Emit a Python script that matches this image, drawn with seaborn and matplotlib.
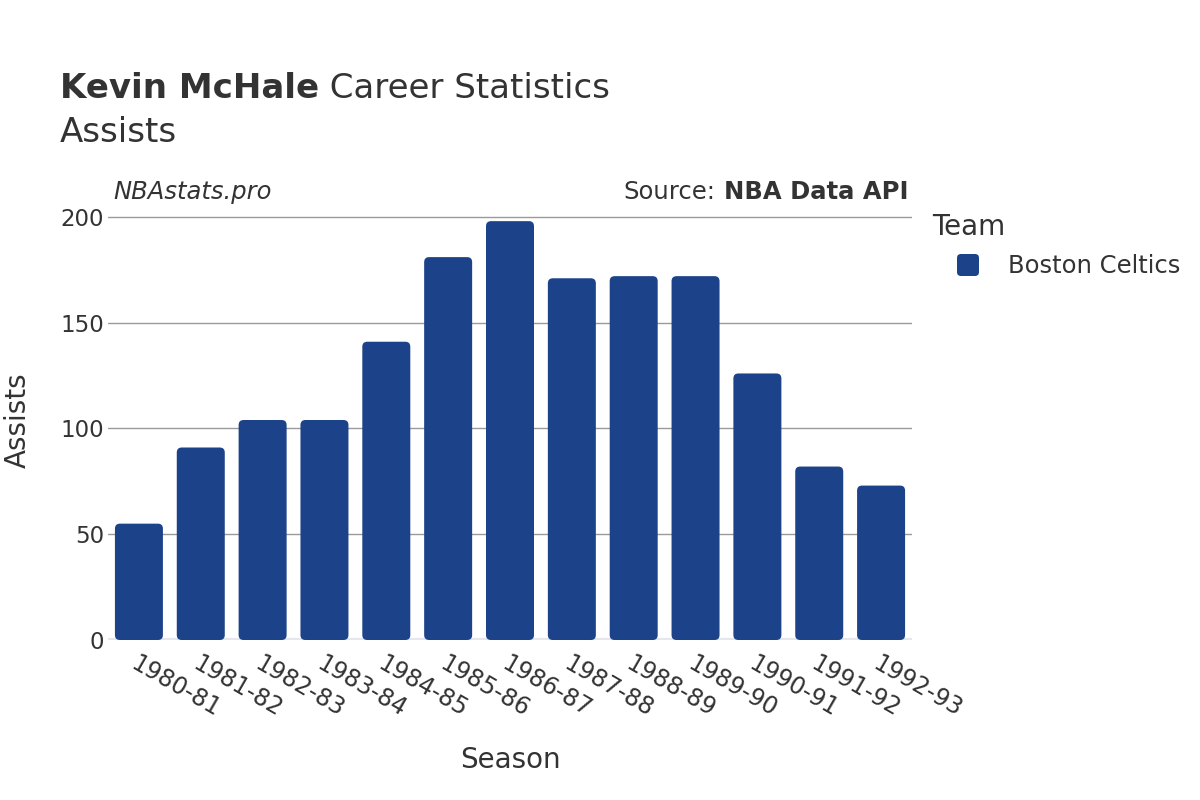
import matplotlib
matplotlib.use("Agg")
import matplotlib.pyplot as plt
import seaborn as sns
import pandas as pd
from matplotlib.patches import FancyBboxPatch

seasons = ["1980-81", "1981-82", "1982-83", "1983-84", "1984-85", "1985-86", "1986-87",
           "1987-88", "1988-89", "1989-90", "1990-91", "1991-92", "1992-93"]
assists = [55, 91, 104, 104, 141, 181, 198, 171, 172, 172, 126, 82, 73]
team = "Boston Celtics"
bar_color = "#1c4289"

df = pd.DataFrame({"Season": seasons, "Assists": assists, "Team": [team] * len(seasons)})

sns.set_theme(style="white")
plt.rcParams["font.family"] = ["DejaVu Sans"]
txt = "#333333"

W, H = 1200, 800
fig = plt.figure(figsize=(12, 8), dpi=100)
ax_l, ax_r, ax_b, ax_t = 108, 912, 640, 200
ax = fig.add_axes([ax_l / W, 1 - ax_b / H, (ax_r - ax_l) / W, (ax_b - ax_t) / H])

sns.barplot(data=df, x="Season", y="Assists", hue="Team", palette=[bar_color],
            width=0.776, ax=ax, legend=False, saturation=1)

ymax = 208
ax.set_ylim(0, ymax)
ax.set_xlim(-0.5, len(seasons) - 0.5)

# rounded bar corners
xpp = len(seasons) / (ax_r - ax_l)
ypp = ymax / (ax_b - ax_t)
for p in list(ax.patches):
    x0, y0 = p.get_x(), p.get_y()
    w, h = p.get_width(), p.get_height()
    fb = FancyBboxPatch((x0, y0), w, h,
                        boxstyle=f"round,pad=0,rounding_size={5 * xpp:.4f}",
                        mutation_aspect=ypp / xpp,
                        facecolor=bar_color, edgecolor="none", zorder=3)
    p.remove()
    ax.add_patch(fb)

ax.set_yticks([0, 50, 100, 150, 200])
ax.yaxis.grid(True, color="#9a9a9a", linewidth=1.0, zorder=0)
ax.set_axisbelow(True)
ax.axhline(0, color="#e6e6ee", linewidth=3, zorder=2)
for s in ax.spines.values():
    s.set_visible(False)

ax.tick_params(axis="y", labelsize=16.5, colors=txt, length=0, pad=3)
ax.tick_params(axis="x", labelsize=17, colors=txt, length=0, pad=8)
for lab in ax.get_xticklabels():
    lab.set_rotation(-30)
    lab.set_ha("left")
    lab.set_va("top")
    lab.set_rotation_mode("anchor")

ax.set_xlabel("")
ax.set_ylabel("")
fig.text(510 / W, 1 - 760 / H, "Season", fontsize=20, color=txt, ha="center", va="center")
fig.text(18 / W, 1 - 420 / H, "Assists", fontsize=20, color=txt, ha="center", va="center",
         rotation=90)

t1 = fig.text(60 / W, 1 - 88 / H, "Kevin McHale", fontsize=24.5, fontweight="bold",
              color=txt, va="center")
ax.annotate(" Career Statistics", xy=(1, 0.5), xycoords=t1, fontsize=24.5, color=txt,
            va="center", ha="left", annotation_clip=False)
fig.text(60 / W, 1 - 132 / H, "Assists", fontsize=24.5, color=txt, va="center")

fig.text(113 / W, 1 - 192 / H, "NBAstats.pro", fontsize=17.5, style="italic",
         color=txt, ha="left", va="center")
t2 = fig.text(908 / W, 1 - 192 / H, "NBA Data API", fontsize=17.5, fontweight="bold",
              color=txt, ha="right", va="center")
ax.annotate("Source:", xy=(0, 0.5), xycoords=t2, xytext=(-8, 0), textcoords="offset pixels",
            fontsize=17.5, color=txt, ha="right", va="center", annotation_clip=False)

# legend
fig.text(932 / W, 1 - 227 / H, "Team", fontsize=20, color=txt, ha="left", va="center")
mk = FancyBboxPatch((957 / W, 1 - 276 / H), 22 / W, 22 / H,
                    boxstyle=f"round,pad=0,rounding_size={4 / W:.5f}",
                    mutation_aspect=W / H, transform=fig.transFigure,
                    facecolor=bar_color, edgecolor="none")
fig.add_artist(mk)
fig.text(1008 / W, 1 - 266 / H, team, fontsize=17.5, color=txt, ha="left", va="center")

fig.savefig("out.png", dpi=100)
